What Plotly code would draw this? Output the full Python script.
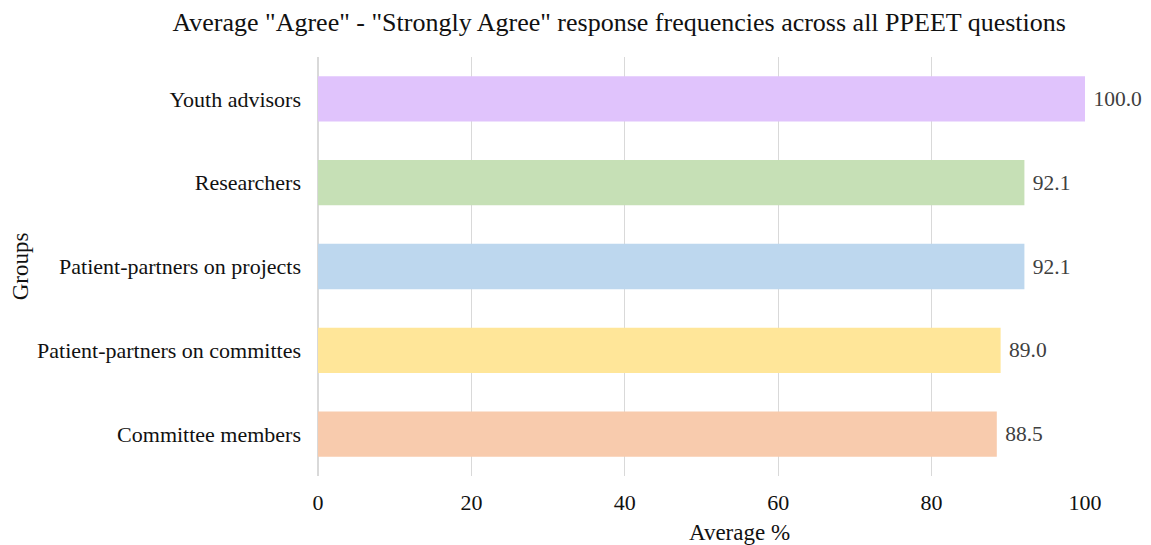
import plotly.graph_objects as go

groups = ["Committee members", "Patient-partners on committes", "Patient-partners on projects",
          "Researchers", "Youth advisors"]
values = [88.5, 89.0, 92.1, 92.1, 100.0]
colors = ["#F8CBAD", "#FFE699", "#BDD7EE", "#C6E0B6", "#E0C3FC"]

fig = go.Figure(go.Bar(
    x=values, y=groups, orientation="h",
    marker=dict(color=colors, line=dict(width=0)),
    width=0.54,
    text=["\u00a0" + f"{v:.1f}" for v in values], textposition="outside",
    textfont=dict(family="Liberation Serif", size=21.5, color="#404040"),
    cliponaxis=False,
))

fig.update_layout(
    width=1151, height=545,
    margin=dict(l=310, r=74, t=49, b=77, autoexpand=False),
    paper_bgcolor="white", plot_bgcolor="white",
    font=dict(family="Liberation Serif", size=22, color="#111111"),
    title=dict(text='Average "Agree" - "Strongly Agree" response frequencies across all PPEET questions',
               xref="container", x=0.531, xanchor="center", yref="container", y=1 - 14 / 545,
               yanchor="middle", font=dict(size=26, color="#111111")),
    showlegend=False,
    xaxis=dict(range=[0, 100], tickvals=[0, 20, 40, 60, 80, 100], showgrid=True,
               gridcolor="#D9D9D9", gridwidth=1, zeroline=True, zerolinecolor="#D9D9D9",
               ticks="", ticklabelstandoff=11, automargin=False),
    yaxis=dict(title=dict(text="Groups", standoff=8, font=dict(size=23)), ticks="", showgrid=False,
               ticklabelstandoff=16, automargin=False),
    annotations=[dict(text="Average %", xref="paper", yref="paper", x=0.549, y=-0.136,
                      xanchor="center", yanchor="middle", showarrow=False,
                      font=dict(size=23, color="#111111"))],
)

fig.write_html("out.html")
